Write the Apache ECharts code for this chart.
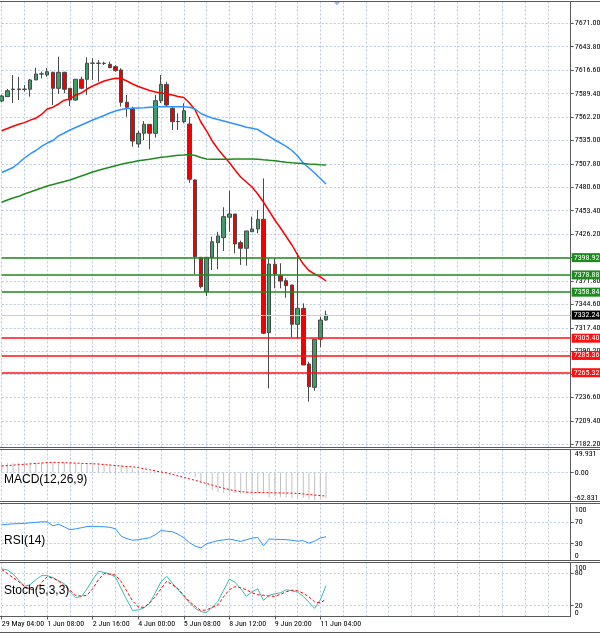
<!DOCTYPE html>
<html lang="en">
  <head>
    <meta charset="UTF-8" />
    <title>Chart</title>
    <style>
      html, body { margin: 0; padding: 0; background: #fff; }
    </style>
  </head>
  <body>
    <div id="main" style="width: 600px; height: 634px"></div>
    <script src="https://cdn.jsdelivr.net/npm/echarts@6/dist/echarts.min.js"></script>
    <script>
      // time labels, one every 8 bars
      const tickLabels = ["29 May 04:00", "1 Jun 08:00", "2 Jun 16:00", "4 Jun 00:00",
        "5 Jun 08:00", "8 Jun 12:00", "9 Jun 20:00", "11 Jun 04:00"];

      const opens = [7580.8, 7585.8, 7594.0, 7594.8, 7594.2, 7594.4, 7605.2, 7612.1, 7611.0, 7614.1,
        7595.5, 7614.1, 7595.5, 7581.9, 7606.0, 7606.0, 7624.6, 7624.8, 7624.4, 7623.4,
        7620.6, 7616.8, 7579.3, 7572.3, 7530.9, 7543.3, 7553.7, 7543.3, 7581.1, 7600.0,
        7572.3, 7556.8, 7556.8, 7554.1, 7489.1, 7399.3, 7359.4, 7399.3, 7416.3, 7422.1,
        7445.8, 7449.6, 7416.3, 7409.8, 7429.0, 7432.2, 7443.4, 7311.8, 7391.2, 7378.0,
        7372.2, 7367.2, 7321.5, 7340.1, 7275.4, 7248.4, 7304.1, 7326.5];
      const closes = [7586.6, 7592.7, 7594.6, 7594.0, 7594.6, 7605.2, 7612.1, 7612.3, 7614.8, 7595.5,
        7614.1, 7594.4, 7581.9, 7606.0, 7595.5, 7624.6, 7624.8, 7624.4, 7624.6, 7619.5,
        7616.0, 7579.3, 7573.5, 7534.3, 7543.3, 7553.7, 7543.3, 7581.1, 7600.0, 7576.1,
        7556.8, 7557.0, 7569.5, 7489.9, 7400.0, 7365.2, 7399.3, 7417.4, 7424.1, 7446.5,
        7449.6, 7414.8, 7409.8, 7429.9, 7432.2, 7443.4, 7311.1, 7391.5, 7379.9, 7371.8,
        7366.4, 7321.5, 7340.1, 7274.3, 7249.1, 7304.1, 7326.5, 7332.24];
      const lows = [7579.6, 7585.4, 7578.5, 7581.9, 7591.6, 7585.8, 7605.2, 7607.1, 7609.0, 7576.1,
        7588.9, 7589.7, 7575.0, 7581.1, 7594.4, 7587.8, 7605.2, 7603.2, 7622.6, 7618.8,
        7614.8, 7574.2, 7562.6, 7527.7, 7526.5, 7535.5, 7524.7, 7538.2, 7578.5, 7575.0,
        7547.1, 7547.1, 7554.9, 7485.9, 7379.9, 7363.3, 7354.4, 7384.6, 7385.4, 7406.6,
        7429.0, 7404.0, 7390.4, 7389.6, 7428.7, 7427.2, 7310.3, 7247.2, 7363.3, 7363.3,
        7352.4, 7306.4, 7305.3, 7274.3, 7231.7, 7244.4, 7294.8, 7325.7];
      const highs = [7587.8, 7594.7, 7611.0, 7608.7, 7599.4, 7606.3, 7619.5, 7614.8, 7619.1, 7614.8,
        7632.2, 7614.8, 7595.5, 7606.3, 7609.0, 7631.5, 7630.4, 7628.4, 7626.4, 7626.4,
        7622.6, 7618.8, 7587.8, 7574.2, 7546.0, 7557.5, 7553.7, 7587.8, 7611.0, 7603.2,
        7573.9, 7566.5, 7578.1, 7562.2, 7489.9, 7399.3, 7399.3, 7423.2, 7429.0, 7457.4,
        7476.6, 7449.6, 7418.6, 7429.9, 7446.5, 7454.2, 7491.0, 7398.2, 7398.2, 7392.4,
        7374.9, 7367.2, 7404.0, 7345.9, 7278.1, 7304.1, 7330.4, 7337.3];

      // moving averages (red, blue, green)
      const maFast = [7546.3, 7548.9, 7551.4, 7553.7, 7555.7, 7558.6, 7560.8, 7565.2, 7571.5, 7573.6,
        7577.3, 7581.7, 7583.1, 7587.8, 7590.1, 7594.7, 7598.2, 7601.1, 7604.0, 7605.8,
        7607.1, 7606.9, 7604.0, 7600.5, 7597.6, 7595.3, 7593.0, 7591.2, 7590.1, 7588.9,
        7587.8, 7586.0, 7584.9, 7578.5, 7570.3, 7556.4, 7546.0, 7534.4, 7525.1, 7516.9,
        7509.4, 7500.7, 7492.6, 7486.7, 7480.9, 7472.8, 7463.5, 7453.1, 7442.6, 7433.3,
        7423.5, 7413.6, 7402.0, 7391.5, 7384.0, 7379.9, 7376.5, 7371.8];
      const maMid = [7497.8, 7500.7, 7503.6, 7508.8, 7514.6, 7519.3, 7523.3, 7528.0, 7532.0, 7534.9,
        7540.2, 7543.6, 7547.1, 7550.0, 7552.9, 7555.8, 7558.7, 7561.3, 7564.0, 7566.9,
        7569.2, 7570.9, 7572.1, 7572.3, 7572.7, 7573.0, 7573.5, 7573.8, 7574.1, 7574.2,
        7574.2, 7574.2, 7574.1, 7573.6, 7571.5, 7566.3, 7563.4, 7561.1, 7559.3, 7557.6,
        7555.8, 7554.1, 7552.3, 7550.3, 7549.1, 7547.7, 7543.6, 7539.6, 7535.5, 7532.0,
        7528.0, 7523.3, 7516.9, 7508.8, 7503.0, 7497.2, 7490.8, 7484.4];
      const maSlow = [7463.2, 7465.9, 7468.2, 7470.1, 7472.8, 7475.1, 7477.5, 7479.8, 7482.1, 7483.8,
        7485.6, 7487.3, 7489.1, 7491.4, 7493.7, 7496.0, 7498.4, 7500.3, 7502.2, 7503.9,
        7505.7, 7507.3, 7508.8, 7510.0, 7511.4, 7512.3, 7513.1, 7514.3, 7515.4, 7516.1,
        7516.9, 7517.7, 7518.1, 7518.7, 7517.5, 7515.2, 7513.5, 7513.2, 7513.1, 7513.1,
        7513.1, 7513.3, 7513.5, 7513.5, 7513.5, 7513.2, 7512.5, 7511.9, 7511.4, 7510.5,
        7509.7, 7509.0, 7508.6, 7508.2, 7507.6, 7507.3, 7506.8, 7506.5];

      const greenLevels = [7398.92, 7378.88, 7358.84];
      const redLevels = [7305.40, 7285.36, 7265.32];
      const lastPrice = 7332.24;

      const priceTicks = [7671.0, 7643.8, 7616.6, 7589.4, 7562.2, 7535.0, 7507.8, 7480.6, 7453.4,
        7426.2, 7399.0, 7371.8, 7344.6, 7317.4, 7290.2, 7263.4, 7236.6, 7209.4, 7182.2];

      const macdHist = [20, 20, 20, 21, 21, 21, 22, 22, 22, 22, 22, 22, 21, 20, 20, 20, 21,
        20, 19, 18, 17, 16, 12, 9, 5,
        2, 0, -2, -1, 0, 0, -2, -3, -3,
        -10, -22, -32, -38, -42, -44, -44, -45, -46, -46, -46, -45, -46,
        -54, -52, -53, -54, -55, -56, -55, -58, -60, -58, -56];
      const macdSignal = [14.1, 15.0, 16.0, 16.9, 17.8, 18.8, 19.7, 20.6, 21.6, 22.1,
        21.8, 21.3, 20.9, 20.4, 20.0, 19.5, 19.0, 18.4, 17.3, 16.2,
        15.1, 14.0, 13.0, 12.4, 10.6, 8.2, 6.0, 3.6, 1.2, -1.0,
        -4.1, -7.4, -10.6, -13.7, -17.0, -20.6, -23.9, -27.3, -30.6, -33.9,
        -37.0, -39.4, -41.5, -42.5, -43.0, -43.3, -43.5, -43.8, -44.0, -44.3,
        -44.5, -44.8, -45.3, -46.5, -47.7, -48.9, -50.0, -51.0];

      const rsi = [64.7, 65.7, 66.6, 66.9, 67.5, 68.4, 69.3, 70.2, 70.2, 62.9,
        65.7, 61.1, 55.6, 57.4, 59.3, 61.6, 62.0, 61.6, 61.1, 60.2,
        57.4, 43.7, 39.2, 36.4, 37.3, 39.2, 41.0, 46.5, 54.3, 52.9,
        52.0, 47.4, 41.0, 31.9, 25.5, 22.2, 30.0, 32.8, 35.5, 36.8,
        38.6, 36.4, 34.2, 37.3, 40.1, 41.5, 26.4, 38.6, 38.1, 37.7,
        37.3, 36.4, 34.6, 35.5, 30.9, 34.6, 40.5, 42.8];

      const stochMain = [87.9, 86.4, 78.5, 67.3, 56.1, 58.9, 68.2, 75.7, 75.7, 72.0,
        66.4, 60.7, 45.8, 35.5, 36.4, 51.4, 68.2, 83.7, 81.7, 78.5,
        72.9, 51.4, 30.8, 11.2, 12.1, 15.9, 24.3, 43.9, 64.5, 74.4,
        61.7, 49.5, 37.4, 25.2, 15.0, 9.0, 7.1, 16.8, 28.0, 48.6,
        69.2, 63.6, 51.4, 37.4, 45.8, 51.4, 29.9, 39.3, 42.1, 43.9,
        49.5, 47.7, 44.9, 37.4, 26.2, 15.0, 30.8, 57.0];
      const stochSignal = [87.1, 79.4, 72.0, 64.5, 56.1, 50.5, 49.5, 62.6, 73.8, 71.0,
        65.4, 57.0, 48.6, 39.3, 37.8, 39.3, 51.4, 68.2, 79.4, 78.5,
        76.6, 64.5, 46.7, 29.0, 17.8, 16.8, 25.2, 36.4, 51.4, 65.4,
        58.9, 51.4, 39.3, 28.0, 18.7, 11.2, 12.1, 16.8, 21.5, 36.4,
        49.5, 55.1, 53.3, 49.5, 43.9, 40.2, 39.3, 37.8, 37.4, 41.1,
        45.8, 48.6, 47.7, 43.0, 36.4, 27.1, 25.2, 32.1];

      const NUM_SLOTS = 101;
      const slots = [];
      for (let i = 0; i < NUM_SLOTS; i++) slots.push(String(i));

      const candles = opens.map((o, i) => [o, closes[i], lows[i], highs[i]]);

      const FONT = "'Roboto Condensed', 'DejaVu Sans Condensed', 'Liberation Sans', sans-serif";
      const FS = 8;
      const LH = 6.5;
      const gridLine = { color: "#b9c9e0", type: [2, 2], width: 1 };
      const frame = "#5a5a5a";

      const grids = [
        { top: 1.5, height: 446 },
        { top: 449.5, height: 52 },
        { top: 503.5, height: 57 },
        { top: 562.5, height: 54 },
      ].map((g) => ({ left: 1.7, right: 29.3, top: g.top, height: g.height, outerBoundsMode: "none" }));

      const showTime = (i) => i % 8 === 0 && i / 8 < tickLabels.length;

      function xAx(idx, withLabels) {
        return {
          type: "category",
          gridIndex: idx,
          data: slots,
          boundaryGap: false,
          axisLine: { show: false },
          axisTick: {
            show: withLabels,
            length: 3,
            interval: showTime,
            lineStyle: { color: frame },
          },
          axisLabel: {
            show: withLabels,
            interval: showTime,
            showMinLabel: true,
            hideOverlap: false,
            formatter: (v, i) => tickLabels[i / 8] || "",
            align: "left",
            margin: 3,
            fontSize: FS,
            fontFamily: FONT,
            color: "#000",
          },
          splitLine: { show: true, interval: (i) => i % 4 === 0, lineStyle: gridLine },
        };
      }

      // labels at the panel edges sit inside the panel, like the terminal does
      function edgeLabel(min, max, digits) {
        return (v) => {
          const s = v.toFixed(digits);
          if (Math.abs(v - max) < 1e-6) return "{t|" + s + "}";
          if (Math.abs(v - min) < 1e-6) return "{b|" + s + "}";
          return s;
        };
      }
      const labelRich = {
        t: { padding: [9, 0, 0, 0], lineHeight: LH, fontSize: FS, fontFamily: FONT, color: "#000" },
        b: { padding: [0, 0, 7.5, 0], lineHeight: LH, fontSize: FS, fontFamily: FONT, color: "#000" },
      };

      function yAx(idx, min, max, labels, lines, fmt) {
        return {
          type: "value",
          gridIndex: idx,
          position: "right",
          min: min,
          max: max,
          axisLine: { show: true, lineStyle: { color: frame } },
          axisTick: { show: true, length: 3, customValues: lines, lineStyle: { color: frame } },
          axisLabel: {
            customValues: labels,
            formatter: fmt,
            rich: labelRich,
            showMinLabel: true,
            showMaxLabel: true,
            hideOverlap: false,
            margin: 4,
            lineHeight: LH,
            fontSize: FS,
            fontFamily: FONT,
            color: "#000",
          },
          splitLine: { show: true, lineStyle: gridLine },
        };
      }

      const macdLabels = [-62.831, 0, 49.931];
      const rsiLabels = [0, 30, 70, 100];
      const stochLabels = [20, 80];
      const stochEdges = ["100", "0"];

      const levelLines = [];
      greenLevels.forEach((v) =>
        levelLines.push({
          yAxis: v,
          lineStyle: { color: "#1f8a1f", width: 1.5, type: "solid" },
          label: { backgroundColor: "#1f8a1f", color: "#fff" },
        })
      );
      redLevels.forEach((v) =>
        levelLines.push({
          yAxis: v,
          lineStyle: { color: "#ff1010", width: 1.5, type: "solid" },
          label: { backgroundColor: "#ff1010", color: "#fff" },
        })
      );
      levelLines.push({
        yAxis: lastPrice,
        lineStyle: { color: "#c6cedc", width: 1, type: "solid" },
        label: { backgroundColor: "#000", color: "#fff" },
      });

      function hLine(y, x2) {
        return {
          type: "line",
          silent: true,
          shape: { x1: 0, y1: y, x2: x2, y2: y },
          style: { stroke: frame, lineWidth: 1 },
          z: 100,
        };
      }

      // stochastic 100 / 0 labels sit just inside the panel's top and bottom edges
      function edgeText(text, top) {
        return {
          type: "text",
          silent: true,
          left: 574.7,
          top: top,
          style: { text: text, fontSize: FS, fontFamily: FONT, fill: "#000" },
          z: 100,
        };
      }

      const myChart = echarts.init(document.getElementById("main"), null, { renderer: "canvas" });
      const option = {
        animation: false,
        backgroundColor: "#fff",
        title: [
          { text: "MACD(12,26,9)", left: 4, top: 474 },
          { text: "RSI(14)", left: 4, top: 535 },
          { text: "Stoch(5,3,3)", left: 4, top: 585 },
        ].map((t) => ({
          text: t.text,
          left: t.left,
          top: t.top,
          padding: 0,
          textStyle: { fontSize: 12, fontWeight: "normal", color: "#000", fontFamily: "'Liberation Sans', sans-serif" },
        })),
        grid: grids,
        xAxis: [xAx(0, false), xAx(1, false), xAx(2, false), xAx(3, true)],
        yAxis: [
          yAx(0, 7178.5, 7696.3, priceTicks, priceTicks, (v) => v.toFixed(2)),
          yAx(1, -62.831, 49.931, macdLabels, [0], (v) =>
            v === 0 ? "0.00" : edgeLabel(-62.831, 49.931, 3)(v)),
          yAx(2, -1, 104, rsiLabels, [30, 70], edgeLabel(0, 100, 0)),
          yAx(3, 0, 100, stochLabels, [20, 80], (v) => v.toFixed(0)),
        ],
        series: [
          {
            type: "candlestick",
            xAxisIndex: 0,
            yAxisIndex: 0,
            data: candles,
            barWidth: 4,
            clip: false,
            itemStyle: {
              color: "#3d9e68",
              color0: "#f00000",
              borderColor: "#4a4a4a",
              borderColor0: "#4a4a4a",
              borderWidth: 1,
            },
            markLine: {
              silent: true,
              symbol: ["none", "none"],
              label: {
                show: true,
                position: "end",
                distance: 1,
                formatter: (p) => Number(p.value).toFixed(2),
                fontSize: FS,
                fontFamily: FONT,
                padding: [1, 2, 0, 2],
              },
              data: levelLines,
            },
          },
          { type: "line", xAxisIndex: 0, yAxisIndex: 0, data: maFast, showSymbol: false, lineStyle: { color: "#ff0000", width: 1.5 } },
          { type: "line", xAxisIndex: 0, yAxisIndex: 0, data: maMid, showSymbol: false, lineStyle: { color: "#2f93ff", width: 1.5 } },
          { type: "line", xAxisIndex: 0, yAxisIndex: 0, data: maSlow, showSymbol: false, lineStyle: { color: "#1e8a1e", width: 1.5 } },
          { type: "bar", xAxisIndex: 1, yAxisIndex: 1, data: macdHist, barWidth: 1, itemStyle: { color: "#c0c0c0" } },
          { type: "line", xAxisIndex: 1, yAxisIndex: 1, data: macdSignal, showSymbol: false, lineStyle: { color: "#ff0000", width: 1, type: [2, 2] } },
          { type: "line", xAxisIndex: 2, yAxisIndex: 2, data: rsi, showSymbol: false, lineStyle: { color: "#2f93ff", width: 1 } },
          { type: "line", xAxisIndex: 3, yAxisIndex: 3, data: stochMain, showSymbol: false, lineStyle: { color: "#3cbcb0", width: 1 } },
          { type: "line", xAxisIndex: 3, yAxisIndex: 3, data: stochSignal, showSymbol: false, lineStyle: { color: "#ff0000", width: 1, type: [3, 2] } },
        ],
        graphic: [
          hLine(1.5, 600),
          hLine(447.5, 600),
          hLine(449.5, 600),
          hLine(501.5, 600),
          hLine(503.5, 600),
          hLine(560.5, 600),
          hLine(562.5, 600),
          hLine(616.5, 570.7),
          hLine(632.5, 600),
          {
            type: "polygon",
            silent: true,
            shape: { points: [[334, 2], [340, 2], [337, 5.5]] },
            style: { fill: "#9fb7e0" },
          },
          edgeText(stochEdges[0], 563.5),
          edgeText(stochEdges[1], 608.5),
        ],
      };
      myChart.setOption(option);
    </script>
  </body>
</html>
